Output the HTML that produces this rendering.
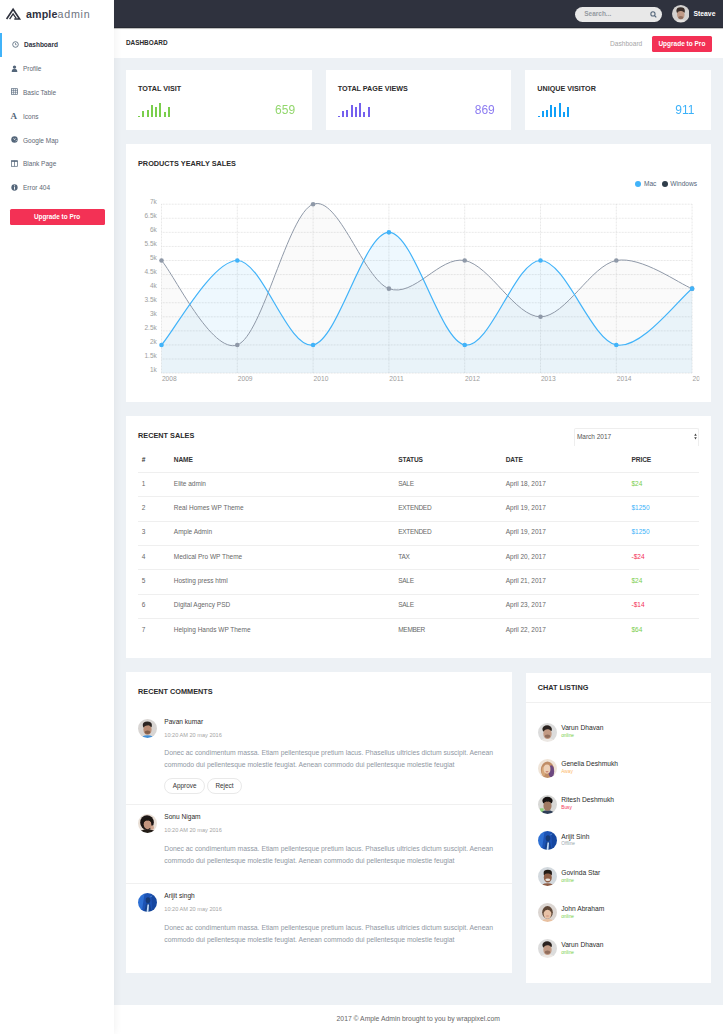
<!DOCTYPE html>
<html><head><meta charset="utf-8">
<style>
*{box-sizing:border-box;margin:0;padding:0}
html,body{width:723px;height:1034px;overflow:hidden}
body{background:#edf1f5;font-family:"Liberation Sans",sans-serif;color:#686868;position:relative}
.abs{position:absolute}
#sidebar{left:0;top:0;width:114px;height:1034px;background:#fff;box-shadow:1px 0 8px rgba(0,0,0,.06);z-index:3}
#topbar{left:114px;top:0;width:609px;height:28px;background:#2f323e;z-index:4;box-shadow:inset 0 -1px 0 rgba(0,0,0,.18),0 .5px .6px rgba(0,0,0,.25)}
#ptitle{left:114px;top:28px;width:609px;height:29.5px;background:#fff}
.card{position:absolute;background:#fff}
.h{position:absolute;font-weight:bold;color:#2b2b2b;white-space:nowrap;line-height:1}
.t{position:absolute;white-space:nowrap;line-height:1}
#footer{left:114px;top:1005px;width:609px;height:29px;background:#fff}
svg.chart{position:absolute;left:0;top:0;width:723px;height:1034px;pointer-events:none}
.grid line{stroke:#cfcfcf;stroke-width:.6;stroke-dasharray:.75 .75}
.lab text{font-family:"Liberation Sans",sans-serif;font-size:6.5px;fill:#9d9d9d}
.line{fill:none;stroke-width:1}.line.sb{stroke-width:1.2}
.line.sa{stroke:#8f99a8}.line.sb{stroke:#41b3f9}
.area.sa{fill:#000;fill-opacity:.02}.area.sb{fill:#41b3f9;fill-opacity:.09}
.pts.sa circle{fill:#8f99a8}.pts.sb circle{fill:#41b3f9}
.nav{position:absolute;left:0;width:114px;height:24px}
.nav .ic{position:absolute;left:11px;top:8px;width:7px;height:7px}
.nav .tx{position:absolute;left:23px;top:9.6px;font-size:6.5px;color:#606874;white-space:nowrap;line-height:1}
.pill{border:0.7px solid #e9e9e9;border-radius:9px;background:#fff}
.av{border-radius:50%;background:radial-gradient(circle at 50% 55%,#c9a088 0 30%,#3a2c25 42%,#dcdcdc 62%)}
.av2{background:radial-gradient(circle at 55% 50%,#c99a80 0 28%,#1f1714 45%,#e0d6d0 70%)}
.av3{background:radial-gradient(circle at 50% 50%,#6aa0d8 0 20%,#1b4a9a 45%,#0c2f6e 75%)}
.av5{background:radial-gradient(circle at 50% 50%,#e9c3a5 0 28%,#b07a55 45%,#e8ddd2 68%)}
.av6{background:radial-gradient(circle at 50% 55%,#8a6a55 0 28%,#1a1a1a 45%,#cfd8cf 68%)}
.av8{background:radial-gradient(circle at 50% 50%,#e7c3a8 0 30%,#b99070 45%,#e6e0dc 68%)}
.xl text{font-size:6.7px}
</style></head><body>
<svg width="0" height="0" style="position:absolute">
<defs>
<clipPath id="cc"><circle cx="10" cy="10" r="10"/></clipPath>
<filter id="bl" x="-10%" y="-10%" width="120%" height="120%"><feGaussianBlur stdDeviation=".45"/></filter>
<symbol id="av1" viewBox="0 0 20 20"><g clip-path="url(#cc)"><g filter="url(#bl)"><rect width="20" height="20" fill="#d8d5d3"/><ellipse cx="10" cy="21.5" rx="7.5" ry="4.5" fill="#3f8ed6"/><ellipse cx="9.8" cy="6.4" rx="4.8" ry="3.8" fill="#2b2522"/><ellipse cx="10" cy="11" rx="4.3" ry="5.5" fill="#b98c74"/><path d="M5.6 8.6 Q6 4.2 9.8 4.2 Q13.8 4.2 14.3 8.6 Q12 6.2 9.8 6.8 Q7.5 6.6 5.6 8.6Z" fill="#2b2522"/><ellipse cx="10" cy="14" rx="3" ry="1.8" fill="#6a4a3c" opacity=".7"/></g></g></symbol>
<symbol id="av2" viewBox="0 0 20 20"><g clip-path="url(#cc)"><g filter="url(#bl)"><rect width="20" height="20" fill="#e9dfd6"/><ellipse cx="9.5" cy="9" rx="7.2" ry="7.8" fill="#1d1512"/><ellipse cx="10" cy="20.5" rx="9" ry="4.5" fill="#231a17"/><ellipse cx="10" cy="10.8" rx="4" ry="5.2" fill="#c4957e"/><path d="M5.8 9 Q6 4.5 10 4.3 Q14 4.5 14.2 9 Q12 6.5 10 7 Q8 6.6 5.8 9Z" fill="#1d1512"/><ellipse cx="14.8" cy="14.2" rx="2" ry="2.3" fill="#cfa58f"/></g></g></symbol>
<symbol id="av3" viewBox="0 0 20 20"><g clip-path="url(#cc)"><g filter="url(#bl)"><rect width="20" height="20" fill="#1d52b4"/><path d="M0 0H7L4 20H0Z" fill="#2e6fd4"/><path d="M14 0H20V20H15Z" fill="#1646a0"/><ellipse cx="10.5" cy="7.5" rx="2.4" ry="3" fill="#163a78"/><path d="M6.5 20 L8.5 11 L12.5 11 L14.5 20Z" fill="#15428e"/><path d="M10 12 L11.6 12 L11 20 L9 20Z" fill="#c8e0fa"/><path d="M13 4 L15 3" stroke="#7fb4f0" stroke-width=".6"/></g></g></symbol>
<symbol id="av4" viewBox="0 0 20 20"><g clip-path="url(#cc)"><g filter="url(#bl)"><rect width="20" height="20" fill="#dcdcdc"/><ellipse cx="10" cy="21" rx="8.5" ry="5" fill="#ece8e4"/><ellipse cx="9.6" cy="6.4" rx="5" ry="4" fill="#2a2320"/><ellipse cx="10" cy="11.2" rx="4.4" ry="5.6" fill="#c29a84"/><path d="M5.6 8.5 Q6 4 10 4 Q14 4 14.4 8.5 Q12 6 10 6.6 Q7.5 6.4 5.6 8.5Z" fill="#2a2320"/><ellipse cx="10" cy="14" rx="3" ry="1.8" fill="#7a5a4c" opacity=".7"/></g></g></symbol>
<symbol id="av5" viewBox="0 0 20 20"><g clip-path="url(#cc)"><g filter="url(#bl)"><rect width="20" height="20" fill="#efe4d8"/><ellipse cx="10" cy="11.5" rx="7" ry="9" fill="#c08d66"/><ellipse cx="14" cy="13" rx="3" ry="6.5" fill="#6d4a80"/><ellipse cx="6" cy="13" rx="2" ry="5" fill="#d6a77a"/><ellipse cx="9.5" cy="10.6" rx="3.6" ry="4.8" fill="#edd0b6"/><ellipse cx="9.5" cy="13.4" rx="1.6" ry=".8" fill="#c9826e"/></g></g></symbol>
<symbol id="av6" viewBox="0 0 20 20"><g clip-path="url(#cc)"><g filter="url(#bl)"><rect width="20" height="20" fill="#d8d8d6"/><rect x="2" y="14" width="4" height="6" fill="#8fd07a"/><ellipse cx="10" cy="21" rx="7.5" ry="5" fill="#2e3d56"/><ellipse cx="10" cy="6" rx="5.4" ry="4.2" fill="#151212"/><ellipse cx="10" cy="11.4" rx="4.3" ry="5.3" fill="#a07a64"/><path d="M5.2 8.8 Q5.5 3.6 10 3.6 Q14.5 3.6 14.8 8.8 Q12.5 6.4 10 7 Q7.5 6.6 5.2 8.8Z" fill="#151212"/></g></g></symbol>
<symbol id="av7" viewBox="0 0 20 20"><g clip-path="url(#cc)"><g filter="url(#bl)"><rect width="20" height="20" fill="#d3d9de"/><ellipse cx="10" cy="21.5" rx="8" ry="4.5" fill="#8c5a42"/><ellipse cx="10.3" cy="6.2" rx="4.4" ry="3.4" fill="#241c18"/><ellipse cx="10.3" cy="11" rx="4.2" ry="5.4" fill="#8e5e46"/><path d="M6 8.4 Q6.4 4.4 10.3 4.4 Q14.2 4.4 14.6 8.4 Q12.4 6.4 10.3 6.9 Q8 6.6 6 8.4Z" fill="#241c18"/><ellipse cx="10.3" cy="13.4" rx="2.6" ry="1.3" fill="#ebe3dc"/></g></g></symbol>
<symbol id="av8" viewBox="0 0 20 20"><g clip-path="url(#cc)"><g filter="url(#bl)"><rect width="20" height="20" fill="#dcd6d2"/><ellipse cx="10" cy="9.8" rx="5.6" ry="6.6" fill="#5e4636"/><ellipse cx="10" cy="21.5" rx="8" ry="4.6" fill="#e8c0a0"/><ellipse cx="10" cy="11.4" rx="4.1" ry="5.2" fill="#e8c2a6"/><path d="M5.9 10 Q6 4.6 10 4.4 Q14 4.6 14.1 10 Q12.5 6.8 10 7 Q7.5 6.8 5.9 10Z" fill="#5e4636"/><ellipse cx="10" cy="13.8" rx="1.8" ry=".8" fill="#d39a86"/></g></g></symbol>
<symbol id="av9" viewBox="0 0 20 20"><g clip-path="url(#cc)"><g filter="url(#bl)"><rect width="20" height="20" fill="#d4d2d0"/><ellipse cx="10" cy="21.5" rx="8" ry="4.5" fill="#e9e6e3"/><ellipse cx="9.8" cy="6.4" rx="4.8" ry="3.8" fill="#3a2e2a"/><ellipse cx="10" cy="11" rx="4.3" ry="5.5" fill="#c09a86"/><path d="M5.6 8.6 Q6 4.2 9.8 4.2 Q13.8 4.2 14.3 8.6 Q12 6.2 9.8 6.8 Q7.5 6.6 5.6 8.6Z" fill="#3a2e2a"/><ellipse cx="10" cy="14.2" rx="3" ry="1.8" fill="#7a5a4c" opacity=".7"/></g></g></symbol>
</defs></svg>


<div id="sidebar" class="abs">
  <!-- logo -->
  <svg class="abs" style="left:0;top:0" width="24" height="24" viewBox="0 0 24 24">
    <path d="M6.6 19 L13.1 9.2 L19.6 19 H14.3" fill="none" stroke="#2f323e" stroke-width="1.6" stroke-linejoin="miter"/>
    <path d="M9.6 19.2 L13.1 13.9 L16.2 18.4" fill="none" stroke="#2f323e" stroke-width="1.3"/>
  </svg>
  <div class="t" style="left:26px;top:8.6px;font-size:10.7px;color:#2f323e"><b style="letter-spacing:.12px">ample</b><span style="color:#6f7480;letter-spacing:.75px">admin</span></div>

  <div class="nav" style="top:33px"><div class="abs" style="left:0;top:0;width:1.5px;height:24px;background:#41b3f9"></div>
    <svg class="ic" style="left:12px;top:8.2px" viewBox="0 0 10 10"><circle cx="5" cy="5" r="4" fill="none" stroke="#54667a" stroke-width="1.2"/><path d="M5 2.8V5.3H6.6" fill="none" stroke="#54667a" stroke-width="1"/></svg>
    <div class="tx" style="left:24px;top:8.6px;font-weight:bold;color:#2f323e">Dashboard</div></div>
  <div class="nav" style="top:56.5px">
    <svg class="ic" viewBox="0 0 10 10"><circle cx="5" cy="3" r="2.4" fill="#54667a"/><path d="M1 10 Q1 5.5 5 5.5 Q9 5.5 9 10Z" fill="#54667a"/></svg>
    <div class="tx">Profile</div></div>
  <div class="nav" style="top:80px">
    <svg class="ic" viewBox="0 0 10 10"><rect x=".6" y="1" width="8.8" height="8" fill="none" stroke="#54667a" stroke-width="1"/><path d="M.6 3.5H9.4M.6 6.2H9.4M3.5 1V9M6.4 1V9" stroke="#54667a" stroke-width=".8"/></svg>
    <div class="tx">Basic Table</div></div>
  <div class="nav" style="top:104px">
    <div class="abs" style="left:10.6px;top:7.6px;font-family:'Liberation Serif',serif;font-weight:bold;font-size:9px;line-height:1;color:#54667a">A</div>
    <div class="tx">Icons</div></div>
  <div class="nav" style="top:128px">
    <svg class="ic" viewBox="0 0 10 10"><circle cx="5" cy="5" r="4.6" fill="#54667a"/><path d="M2.4 2.6 L5 5.6 L7.8 2.4 L6.2 3.6 L5 4.4Z" fill="#fff"/><path d="M6.4 7.2 L8.6 6.2" stroke="#fff" stroke-width=".7"/></svg>
    <div class="tx">Google Map</div></div>
  <div class="nav" style="top:151.5px">
    <svg class="ic" viewBox="0 0 10 10"><rect x=".6" y="1" width="8.8" height="8" fill="none" stroke="#54667a" stroke-width="1"/><path d="M5 1V9" stroke="#54667a" stroke-width="1"/><rect x=".6" y="1" width="8.8" height="1.6" fill="#54667a"/></svg>
    <div class="tx">Blank Page</div></div>
  <div class="nav" style="top:175.5px">
    <svg class="ic" viewBox="0 0 10 10"><circle cx="5" cy="5" r="4.5" fill="#54667a"/><path d="M5 4.2V8" stroke="#fff" stroke-width="1.3"/><circle cx="5" cy="2.6" r=".8" fill="#fff"/></svg>
    <div class="tx">Error 404</div></div>
  <div class="abs" style="left:9.5px;top:209px;width:95px;height:16px;background:#f33155;border-radius:1.5px"></div>
  <div class="t" style="left:9.5px;top:214px;width:95px;text-align:center;font-size:6.4px;color:#fff;font-weight:bold">Upgrade to Pro</div>
</div>

<div id="topbar" class="abs">
  <div class="abs" style="left:461px;top:7px;width:86.5px;height:14.5px;border-radius:8px;background:#e8e8e8"></div>
  <div class="t" style="left:470.2px;top:10.8px;font-size:6.5px;color:#949aa1;font-weight:bold">Search...</div>
  <svg class="abs" style="left:535.5px;top:10.5px" width="7" height="7" viewBox="0 0 10 10"><circle cx="4.2" cy="4.2" r="3" fill="none" stroke="#54667a" stroke-width="1.5"/><path d="M6.5 6.5L9 9" stroke="#54667a" stroke-width="1.6"/></svg>
  <svg class="abs" style="left:557.8px;top:5.2px" width="17.6" height="17.6"><use href="#av9"/></svg>
  <div class="t" style="left:579.5px;top:10.8px;font-size:6.8px;color:#fff;font-weight:bold">Steave</div>
</div>

<div id="ptitle" class="abs">
  <div class="h" style="left:12px;top:11.9px;font-size:6.4px;color:#2b2b2b">DASHBOARD</div>
  <div class="t" style="left:496px;top:12.5px;font-size:6.6px;color:#a6a6a6">Dashboard</div>
  <div class="abs" style="left:538.2px;top:7.6px;width:59.4px;height:16px;background:#f33155;border-radius:1.5px"></div>
  <div class="t" style="left:538.2px;top:13px;width:59.4px;text-align:center;font-size:6.5px;color:#fff;font-weight:bold">Upgrade to Pro</div>
</div>

<!-- stat cards -->
<div class="card" style="left:126px;top:70px;width:185.7px;height:60px"></div>
<div class="card" style="left:325.7px;top:70px;width:185.7px;height:60px"></div>
<div class="card" style="left:525.3px;top:70px;width:185.7px;height:60px"></div>

<!-- chart card -->
<div class="card" style="left:126px;top:144px;width:585px;height:257.7px"></div>
<!-- sales card -->
<div class="card" style="left:126px;top:416px;width:585px;height:241.7px"></div>
<!-- comments card -->
<div class="card" style="left:126px;top:672.3px;width:385.5px;height:300.8px"></div>
<!-- chat card -->
<div class="card" style="left:525.8px;top:672.5px;width:185.2px;height:310.8px"></div>

<div class="t" style="left:138.00px;top:85.21px;font-size:7.20px;font-weight:bold;color:#2b2b2b">TOTAL VISIT</div>
<div class="t" style="left:235.10px;top:103.64px;width:60px;text-align:right;font-size:12px;color:#7ace4c;opacity:.82">659</div>
<div class="abs" style="left:138px;top:116.20px;width:2px;height:0.80px;background:#7ace4c"></div>
<div class="abs" style="left:142px;top:111.10px;width:2px;height:5.90px;background:#7ace4c"></div>
<div class="abs" style="left:147px;top:109.90px;width:2px;height:7.10px;background:#7ace4c"></div>
<div class="abs" style="left:151px;top:105.10px;width:2px;height:11.90px;background:#7ace4c"></div>
<div class="abs" style="left:155px;top:106.60px;width:2px;height:10.40px;background:#7ace4c"></div>
<div class="abs" style="left:159px;top:102.75px;width:2px;height:14.25px;background:#7ace4c"></div>
<div class="abs" style="left:164px;top:112.25px;width:2px;height:4.75px;background:#7ace4c"></div>
<div class="abs" style="left:168px;top:106.60px;width:2px;height:10.40px;background:#7ace4c"></div>
<div class="t" style="left:337.70px;top:85.21px;font-size:7.20px;font-weight:bold;color:#2b2b2b">TOTAL PAGE VIEWS</div>
<div class="t" style="left:434.80px;top:103.64px;width:60px;text-align:right;font-size:12px;color:#7460ee;opacity:.82">869</div>
<div class="abs" style="left:338px;top:116.20px;width:2px;height:0.80px;background:#7460ee"></div>
<div class="abs" style="left:342px;top:111.10px;width:2px;height:5.90px;background:#7460ee"></div>
<div class="abs" style="left:346px;top:109.90px;width:2px;height:7.10px;background:#7460ee"></div>
<div class="abs" style="left:351px;top:105.10px;width:2px;height:11.90px;background:#7460ee"></div>
<div class="abs" style="left:355px;top:106.60px;width:2px;height:10.40px;background:#7460ee"></div>
<div class="abs" style="left:359px;top:102.75px;width:2px;height:14.25px;background:#7460ee"></div>
<div class="abs" style="left:363px;top:112.25px;width:2px;height:4.75px;background:#7460ee"></div>
<div class="abs" style="left:368px;top:106.60px;width:2px;height:10.40px;background:#7460ee"></div>
<div class="t" style="left:537.30px;top:85.21px;font-size:7.20px;font-weight:bold;color:#2b2b2b">UNIQUE VISITOR</div>
<div class="t" style="left:634.40px;top:103.64px;width:60px;text-align:right;font-size:12px;color:#11a0f8;opacity:.82">911</div>
<div class="abs" style="left:538px;top:116.20px;width:2px;height:0.80px;background:#11a0f8"></div>
<div class="abs" style="left:542px;top:111.10px;width:2px;height:5.90px;background:#11a0f8"></div>
<div class="abs" style="left:546px;top:109.90px;width:2px;height:7.10px;background:#11a0f8"></div>
<div class="abs" style="left:550px;top:105.10px;width:2px;height:11.90px;background:#11a0f8"></div>
<div class="abs" style="left:554px;top:106.60px;width:2px;height:10.40px;background:#11a0f8"></div>
<div class="abs" style="left:559px;top:102.75px;width:2px;height:14.25px;background:#11a0f8"></div>
<div class="abs" style="left:563px;top:112.25px;width:2px;height:4.75px;background:#11a0f8"></div>
<div class="abs" style="left:567px;top:106.60px;width:2px;height:10.40px;background:#11a0f8"></div>
<div class="t" style="left:138.00px;top:159.82px;font-size:7.30px;font-weight:bold;color:#2b2b2b">PRODUCTS YEARLY SALES</div>
<div class="abs" style="left:635px;top:181px;width:6px;height:6px;border-radius:50%;background:#41b3f9"></div>
<div class="t" style="left:643.90px;top:180.81px;font-size:6.60px;color:#54667a">Mac</div>
<div class="abs" style="left:662px;top:181px;width:6px;height:6px;border-radius:50%;background:#2f3d4a"></div>
<div class="t" style="left:670.30px;top:180.81px;font-size:6.60px;color:#54667a">Windows</div>
<div class="t" style="left:138.00px;top:431.92px;font-size:7.30px;font-weight:bold;color:#2b2b2b">RECENT SALES</div>
<div class="abs" style="left:573.5px;top:428.3px;width:125.6px;height:17.5px;border:0.6px solid #eeeeee;border-bottom:none;border-radius:2px 2px 0 0"></div>
<div class="t" style="left:576.90px;top:434.00px;font-size:6.50px;color:#555">March 2017</div>
<svg class="abs" style="left:694px;top:433px" width="3" height="7" viewBox="0 0 3 7"><path d="M1.5 .5L2.8 2.8H.2Z M1.5 6.5L2.8 4.2H.2Z" fill="#444"/></svg>
<div class="t" style="left:141.80px;top:456.51px;font-size:6.60px;font-weight:bold;color:#333;letter-spacing:-.12px">#</div>
<div class="t" style="left:173.80px;top:456.51px;font-size:6.60px;font-weight:bold;color:#333;letter-spacing:-.12px">NAME</div>
<div class="t" style="left:398.20px;top:456.51px;font-size:6.60px;font-weight:bold;color:#333;letter-spacing:-.12px">STATUS</div>
<div class="t" style="left:505.70px;top:456.51px;font-size:6.60px;font-weight:bold;color:#333;letter-spacing:-.12px">DATE</div>
<div class="t" style="left:631.50px;top:456.51px;font-size:6.60px;font-weight:bold;color:#333;letter-spacing:-.12px">PRICE</div>
<div class="abs" style="left:138px;top:472.10px;width:561px;height:0.7px;background:#efefef"></div>
<div class="abs" style="left:138px;top:496.40px;width:561px;height:0.7px;background:#efefef"></div>
<div class="abs" style="left:138px;top:520.70px;width:561px;height:0.7px;background:#efefef"></div>
<div class="abs" style="left:138px;top:545.00px;width:561px;height:0.7px;background:#efefef"></div>
<div class="abs" style="left:138px;top:569.30px;width:561px;height:0.7px;background:#efefef"></div>
<div class="abs" style="left:138px;top:593.60px;width:561px;height:0.7px;background:#efefef"></div>
<div class="abs" style="left:138px;top:617.90px;width:561px;height:0.7px;background:#efefef"></div>
<div class="t" style="left:141.80px;top:480.70px;font-size:6.50px;color:#686868">1</div>
<div class="t" style="left:173.80px;top:480.70px;font-size:6.50px;color:#686868">Elite admin</div>
<div class="t" style="left:398.20px;top:480.70px;font-size:6.50px;color:#686868;letter-spacing:-.28px">SALE</div>
<div class="t" style="left:505.70px;top:480.70px;font-size:6.50px;color:#686868">April 18, 2017</div>
<div class="t" style="left:631.50px;top:480.70px;font-size:6.50px;color:#7ace4c">$24</div>
<div class="t" style="left:141.80px;top:505.00px;font-size:6.50px;color:#686868">2</div>
<div class="t" style="left:173.80px;top:505.00px;font-size:6.50px;color:#686868">Real Homes WP Theme</div>
<div class="t" style="left:398.20px;top:505.00px;font-size:6.50px;color:#686868;letter-spacing:-.28px">EXTENDED</div>
<div class="t" style="left:505.70px;top:505.00px;font-size:6.50px;color:#686868">April 19, 2017</div>
<div class="t" style="left:631.50px;top:505.00px;font-size:6.50px;color:#41b3f9">$1250</div>
<div class="t" style="left:141.80px;top:529.30px;font-size:6.50px;color:#686868">3</div>
<div class="t" style="left:173.80px;top:529.30px;font-size:6.50px;color:#686868">Ample Admin</div>
<div class="t" style="left:398.20px;top:529.30px;font-size:6.50px;color:#686868;letter-spacing:-.28px">EXTENDED</div>
<div class="t" style="left:505.70px;top:529.30px;font-size:6.50px;color:#686868">April 19, 2017</div>
<div class="t" style="left:631.50px;top:529.30px;font-size:6.50px;color:#41b3f9">$1250</div>
<div class="t" style="left:141.80px;top:553.60px;font-size:6.50px;color:#686868">4</div>
<div class="t" style="left:173.80px;top:553.60px;font-size:6.50px;color:#686868">Medical Pro WP Theme</div>
<div class="t" style="left:398.20px;top:553.60px;font-size:6.50px;color:#686868;letter-spacing:-.28px">TAX</div>
<div class="t" style="left:505.70px;top:553.60px;font-size:6.50px;color:#686868">April 20, 2017</div>
<div class="t" style="left:631.50px;top:553.60px;font-size:6.50px;color:#f33155">-$24</div>
<div class="t" style="left:141.80px;top:577.90px;font-size:6.50px;color:#686868">5</div>
<div class="t" style="left:173.80px;top:577.90px;font-size:6.50px;color:#686868">Hosting press html</div>
<div class="t" style="left:398.20px;top:577.90px;font-size:6.50px;color:#686868;letter-spacing:-.28px">SALE</div>
<div class="t" style="left:505.70px;top:577.90px;font-size:6.50px;color:#686868">April 21, 2017</div>
<div class="t" style="left:631.50px;top:577.90px;font-size:6.50px;color:#7ace4c">$24</div>
<div class="t" style="left:141.80px;top:602.20px;font-size:6.50px;color:#686868">6</div>
<div class="t" style="left:173.80px;top:602.20px;font-size:6.50px;color:#686868">Digital Agency PSD</div>
<div class="t" style="left:398.20px;top:602.20px;font-size:6.50px;color:#686868;letter-spacing:-.28px">SALE</div>
<div class="t" style="left:505.70px;top:602.20px;font-size:6.50px;color:#686868">April 23, 2017</div>
<div class="t" style="left:631.50px;top:602.20px;font-size:6.50px;color:#f33155">-$14</div>
<div class="t" style="left:141.80px;top:626.50px;font-size:6.50px;color:#686868">7</div>
<div class="t" style="left:173.80px;top:626.50px;font-size:6.50px;color:#686868">Helping Hands WP Theme</div>
<div class="t" style="left:398.20px;top:626.50px;font-size:6.50px;color:#686868;letter-spacing:-.28px">MEMBER</div>
<div class="t" style="left:505.70px;top:626.50px;font-size:6.50px;color:#686868">April 22, 2017</div>
<div class="t" style="left:631.50px;top:626.50px;font-size:6.50px;color:#7ace4c">$64</div>
<div class="t" style="left:138.00px;top:688.12px;font-size:7.30px;font-weight:bold;color:#2b2b2b">RECENT COMMENTS</div>
<svg class="abs" style="left:137.9px;top:718.80px" width="19" height="19"><use href="#av1"/></svg>
<div class="t" style="left:164.30px;top:718.91px;font-size:6.60px;color:#2b2b2b">Pavan kumar</div>
<div class="t" style="left:164.30px;top:732.56px;font-size:5.60px;color:#a5a5a5">10:20 AM 20 may 2016</div>
<div class="t" style="left:164.30px;top:750.04px;font-size:6.80px;color:#8f98a3">Donec ac condimentum massa. Etiam pellentesque pretium lacus. Phasellus ultricies dictum suscipit. Aenean</div>
<div class="t" style="left:164.30px;top:761.94px;font-size:6.80px;color:#8f98a3">commodo dui pellentesque molestie feugiat. Aenean commodo dui pellentesque molestie feugiat</div>
<svg class="abs" style="left:137.9px;top:813.50px" width="19" height="19"><use href="#av2"/></svg>
<div class="t" style="left:164.30px;top:814.01px;font-size:6.60px;color:#2b2b2b">Sonu Nigam</div>
<div class="t" style="left:164.30px;top:828.06px;font-size:5.60px;color:#a5a5a5">10:20 AM 20 may 2016</div>
<div class="t" style="left:164.30px;top:845.54px;font-size:6.80px;color:#8f98a3">Donec ac condimentum massa. Etiam pellentesque pretium lacus. Phasellus ultricies dictum suscipit. Aenean</div>
<div class="t" style="left:164.30px;top:857.54px;font-size:6.80px;color:#8f98a3">commodo dui pellentesque molestie feugiat. Aenean commodo dui pellentesque molestie feugiat</div>
<svg class="abs" style="left:137.9px;top:892.80px" width="19" height="19"><use href="#av3"/></svg>
<div class="t" style="left:164.30px;top:893.01px;font-size:6.60px;color:#2b2b2b">Arijit singh</div>
<div class="t" style="left:164.30px;top:907.06px;font-size:5.60px;color:#a5a5a5">10:20 AM 20 may 2016</div>
<div class="t" style="left:164.30px;top:924.74px;font-size:6.80px;color:#8f98a3">Donec ac condimentum massa. Etiam pellentesque pretium lacus. Phasellus ultricies dictum suscipit. Aenean</div>
<div class="t" style="left:164.30px;top:936.54px;font-size:6.80px;color:#8f98a3">commodo dui pellentesque molestie feugiat. Aenean commodo dui pellentesque molestie feugiat</div>
<div class="abs pill" style="left:164.3px;top:778px;width:40.7px;height:16px"></div>
<div class="abs pill" style="left:207.4px;top:778px;width:34.5px;height:16px"></div>
<div class="t" style="left:164.3px;top:783px;width:40.7px;text-align:center;font-size:6.4px;color:#333">Approve</div>
<div class="t" style="left:207.4px;top:783px;width:34.1px;text-align:center;font-size:6.4px;color:#333">Reject</div>
<div class="abs" style="left:126px;top:803.5px;width:385.5px;height:0.7px;background:#f0f0f0"></div>
<div class="abs" style="left:126px;top:882.5px;width:385.5px;height:0.7px;background:#f0f0f0"></div>
<div class="t" style="left:537.80px;top:683.72px;font-size:7.30px;font-weight:bold;color:#2b2b2b">CHAT LISTING</div>
<div class="abs" style="left:525.8px;top:702px;width:185.2px;height:0.7px;background:#f0f0f0"></div>
<svg class="abs" style="left:537.5px;top:722.80px" width="19" height="19"><use href="#av4"/></svg>
<div class="t" style="left:561.20px;top:725.23px;font-size:6.70px;color:#2b2b2b">Varun Dhavan</div>
<div class="t" style="left:561.20px;top:734.14px;font-size:4.80px;color:#7ace4c">online</div>
<svg class="abs" style="left:537.5px;top:758.90px" width="19" height="19"><use href="#av5"/></svg>
<div class="t" style="left:561.20px;top:761.33px;font-size:6.70px;color:#2b2b2b">Genelia Deshmukh</div>
<div class="t" style="left:561.20px;top:770.24px;font-size:4.80px;color:#fcb96b">Away</div>
<svg class="abs" style="left:537.5px;top:795.00px" width="19" height="19"><use href="#av6"/></svg>
<div class="t" style="left:561.20px;top:797.43px;font-size:6.70px;color:#2b2b2b">Ritesh Deshmukh</div>
<div class="t" style="left:561.20px;top:806.34px;font-size:4.80px;color:#f33155">Busy</div>
<svg class="abs" style="left:537.5px;top:831.10px" width="19" height="19"><use href="#av3"/></svg>
<div class="t" style="left:561.20px;top:833.53px;font-size:6.70px;color:#2b2b2b">Arijit Sinh</div>
<div class="t" style="left:561.20px;top:842.44px;font-size:4.80px;color:#98a6ad">Offline</div>
<svg class="abs" style="left:537.5px;top:867.20px" width="19" height="19"><use href="#av7"/></svg>
<div class="t" style="left:561.20px;top:869.63px;font-size:6.70px;color:#2b2b2b">Govinda Star</div>
<div class="t" style="left:561.20px;top:878.54px;font-size:4.80px;color:#7ace4c">online</div>
<svg class="abs" style="left:537.5px;top:903.30px" width="19" height="19"><use href="#av8"/></svg>
<div class="t" style="left:561.20px;top:905.73px;font-size:6.70px;color:#2b2b2b">John Abraham</div>
<div class="t" style="left:561.20px;top:914.64px;font-size:4.80px;color:#7ace4c">online</div>
<svg class="abs" style="left:537.5px;top:939.40px" width="19" height="19"><use href="#av4"/></svg>
<div class="t" style="left:561.20px;top:941.83px;font-size:6.70px;color:#2b2b2b">Varun Dhavan</div>
<div class="t" style="left:561.20px;top:950.74px;font-size:4.80px;color:#7ace4c">online</div>
<div id="footer" class="abs">
  <div class="t" style="left:222.6px;top:10.9px;font-size:6.8px;color:#666">2017 &copy; Ample Admin brought to you by wrappixel.com</div>
</div>

<svg class="chart" viewBox="0 0 723 1034">
<defs><clipPath id="xclip"><rect x="100" y="370" width="599.5" height="20"/></clipPath></defs>
<g class="grid"><line x1="161.5" y1="373.10" x2="692.1" y2="373.10"/><line x1="161.5" y1="359.03" x2="692.1" y2="359.03"/><line x1="161.5" y1="344.95" x2="692.1" y2="344.95"/><line x1="161.5" y1="330.88" x2="692.1" y2="330.88"/><line x1="161.5" y1="316.80" x2="692.1" y2="316.80"/><line x1="161.5" y1="302.73" x2="692.1" y2="302.73"/><line x1="161.5" y1="288.65" x2="692.1" y2="288.65"/><line x1="161.5" y1="274.58" x2="692.1" y2="274.58"/><line x1="161.5" y1="260.50" x2="692.1" y2="260.50"/><line x1="161.5" y1="246.43" x2="692.1" y2="246.43"/><line x1="161.5" y1="232.35" x2="692.1" y2="232.35"/><line x1="161.5" y1="218.28" x2="692.1" y2="218.28"/><line x1="161.5" y1="204.20" x2="692.1" y2="204.20"/><line x1="161.50" y1="204.20" x2="161.50" y2="373.10"/><line x1="237.30" y1="204.20" x2="237.30" y2="373.10"/><line x1="313.10" y1="204.20" x2="313.10" y2="373.10"/><line x1="388.90" y1="204.20" x2="388.90" y2="373.10"/><line x1="464.70" y1="204.20" x2="464.70" y2="373.10"/><line x1="540.50" y1="204.20" x2="540.50" y2="373.10"/><line x1="616.30" y1="204.20" x2="616.30" y2="373.10"/><line x1="692.10" y1="204.20" x2="692.10" y2="373.10"/></g>
<g class="lab"><text x="156.8" y="372.40" text-anchor="end">1k</text><text x="156.8" y="358.33" text-anchor="end">1.5k</text><text x="156.8" y="344.25" text-anchor="end">2k</text><text x="156.8" y="330.18" text-anchor="end">2.5k</text><text x="156.8" y="316.10" text-anchor="end">3k</text><text x="156.8" y="302.03" text-anchor="end">3.5k</text><text x="156.8" y="287.95" text-anchor="end">4k</text><text x="156.8" y="273.88" text-anchor="end">4.5k</text><text x="156.8" y="259.80" text-anchor="end">5k</text><text x="156.8" y="245.73" text-anchor="end">5.5k</text><text x="156.8" y="231.65" text-anchor="end">6k</text><text x="156.8" y="217.58" text-anchor="end">6.5k</text><text x="156.8" y="203.50" text-anchor="end">7k</text></g><g class="lab xl"><text x="161.90" y="381" clip-path="url(#xclip)">2008</text><text x="237.70" y="381" clip-path="url(#xclip)">2009</text><text x="313.50" y="381" clip-path="url(#xclip)">2010</text><text x="389.30" y="381" clip-path="url(#xclip)">2011</text><text x="465.10" y="381" clip-path="url(#xclip)">2012</text><text x="540.90" y="381" clip-path="url(#xclip)">2013</text><text x="616.70" y="381" clip-path="url(#xclip)">2014</text><text x="692.50" y="381" clip-path="url(#xclip)">2015</text></g>
<path class="area sa" d="M161.50,373.10L161.50,260.50C174.13,274.57,212.03,354.33,237.30,344.95C262.57,335.57,287.83,213.58,313.10,204.20C338.37,194.82,363.63,279.27,388.90,288.65C414.17,298.03,439.43,255.81,464.70,260.50C489.97,265.19,515.23,316.80,540.50,316.80C565.77,316.80,591.03,265.19,616.30,260.50C641.57,255.81,679.47,283.96,692.10,288.65L692.10,373.10Z"/>
<path class="area sb" d="M161.50,373.10L161.50,344.95C174.13,330.88,212.03,260.50,237.30,260.50C262.57,260.50,287.83,349.64,313.10,344.95C338.37,340.26,363.63,232.35,388.90,232.35C414.17,232.35,439.43,340.26,464.70,344.95C489.97,349.64,515.23,260.50,540.50,260.50C565.77,260.50,591.03,340.26,616.30,344.95C641.57,349.64,679.47,298.03,692.10,288.65L692.10,373.10Z"/>
<path class="line sa" d="M161.50,260.50C174.13,274.57,212.03,354.33,237.30,344.95C262.57,335.57,287.83,213.58,313.10,204.20C338.37,194.82,363.63,279.27,388.90,288.65C414.17,298.03,439.43,255.81,464.70,260.50C489.97,265.19,515.23,316.80,540.50,316.80C565.77,316.80,591.03,265.19,616.30,260.50C641.57,255.81,679.47,283.96,692.10,288.65"/>
<g class="pts sa"><circle cx="161.50" cy="260.50" r="2.3"/><circle cx="237.30" cy="344.95" r="2.3"/><circle cx="313.10" cy="204.20" r="2.3"/><circle cx="388.90" cy="288.65" r="2.3"/><circle cx="464.70" cy="260.50" r="2.3"/><circle cx="540.50" cy="316.80" r="2.3"/><circle cx="616.30" cy="260.50" r="2.3"/><circle cx="692.10" cy="288.65" r="2.3"/></g>
<path class="line sb" d="M161.50,344.95C174.13,330.88,212.03,260.50,237.30,260.50C262.57,260.50,287.83,349.64,313.10,344.95C338.37,340.26,363.63,232.35,388.90,232.35C414.17,232.35,439.43,340.26,464.70,344.95C489.97,349.64,515.23,260.50,540.50,260.50C565.77,260.50,591.03,340.26,616.30,344.95C641.57,349.64,679.47,298.03,692.10,288.65"/>
<g class="pts sb"><circle cx="161.50" cy="344.95" r="2.3"/><circle cx="237.30" cy="260.50" r="2.3"/><circle cx="313.10" cy="344.95" r="2.3"/><circle cx="388.90" cy="232.35" r="2.3"/><circle cx="464.70" cy="344.95" r="2.3"/><circle cx="540.50" cy="260.50" r="2.3"/><circle cx="616.30" cy="344.95" r="2.3"/><circle cx="692.10" cy="288.65" r="2.3"/></g>
</svg>
</body></html>
